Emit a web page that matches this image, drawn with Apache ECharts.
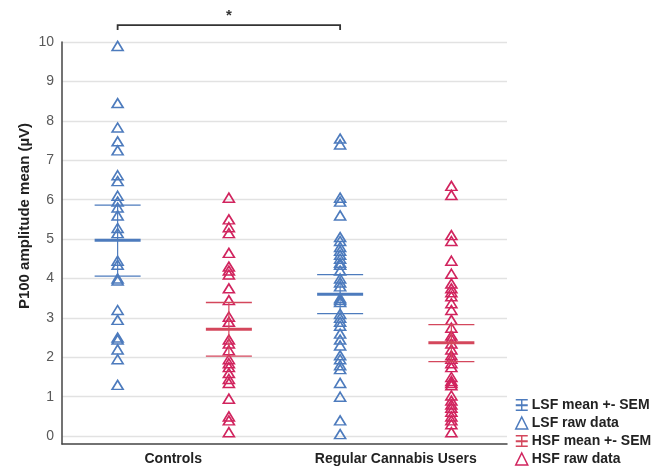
<!DOCTYPE html>
<html>
<head>
<meta charset="utf-8">
<script src="https://cdn.jsdelivr.net/npm/echarts@6/dist/echarts.min.js"></script>
<style>
  html, body { margin: 0; padding: 0; background: #fff; }
  #main { width: 672px; height: 470px; }
</style>
</head>
<body>
<div id="main"></div>
<script>
// groups on the x axis
const groups = ["Controls", "Regular Cannabis Users"];
const yTicks = [0, 1, 2, 3, 4, 5, 6, 7, 8, 9, 10];

// raw values (µV)
const lsfControls = [9.9, 8.45, 7.83, 7.48, 7.25, 6.62, 6.47, 6.1, 5.95, 5.8, 5.6, 5.28, 5.15,
  4.45, 4.35, 4.0, 3.95, 3.2, 2.95, 2.5, 2.45, 2.2, 1.95, 1.3];
const hsfControls = [6.05, 5.5, 5.3, 5.15, 4.65, 4.3, 4.2, 4.1, 3.75, 3.45, 3.03, 2.9, 2.45,
  2.35, 2.18, 1.95, 1.85, 1.75, 1.6, 1.45, 1.35, 0.95, 0.5, 0.4, 0.1];
const lsfUsers = [7.55, 7.4, 6.05, 5.95, 5.6, 5.05, 4.95, 4.8, 4.7, 4.6, 4.5, 4.4, 4.35, 4.2,
  4.0, 3.9, 3.8, 3.5, 3.45, 3.4, 3.1, 3.0, 2.9, 2.8, 2.6, 2.45, 2.3, 2.05, 1.95, 1.8, 1.7,
  1.35, 1.0, 0.4, 0.05];
const hsfUsers = [6.35, 6.12, 5.1, 4.95, 4.45, 4.12, 3.87, 3.75, 3.65, 3.55, 3.37, 3.2, 2.95,
  2.75, 2.55, 2.47, 2.35, 2.2, 2.05, 1.96, 1.85, 1.75, 1.5, 1.4, 1.35, 1.29, 1.03, 0.9, 0.8,
  0.72, 0.62, 0.5, 0.4, 0.3, 0.1];

// mean and SEM bounds per group
const lsfMean = [4.97, 3.6];
const lsfSemLow = [4.06, 3.11];
const lsfSemHigh = [5.86, 4.1];
const hsfMean = [2.71, 2.37];
const hsfSemLow = [2.03, 1.89];
const hsfSemHigh = [3.39, 2.83];

// significance bracket between the LSF columns
const sigFrom = 0;
const sigTo = 1;
const sigLevel = 10.43;
const sigLabel = "*";

const blue = "#4d7bbd";
const red = "#d1245e";
const redLine = "#d4475c";

function rawPoints(vals, gi, off) {
  return vals.map((v) => [gi + off, v]);
}

function errData(mean, lo, hi, off) {
  return mean.map((m, i) => [i + off, m, lo[i], hi[i]]);
}

function errRender(color) {
  return function (params, api) {
    const x = api.value(0);
    const pm = api.coord([x, api.value(1)]);
    const pl = api.coord([x, api.value(2)]);
    const ph = api.coord([x, api.value(3)]);
    const hw = 23;
    return {
      type: "group",
      children: [
        { type: "line", shape: { x1: pm[0], y1: ph[1], x2: pm[0], y2: pl[1] }, style: { stroke: color, lineWidth: 1.2 } },
        { type: "line", shape: { x1: pm[0] - hw, y1: ph[1], x2: pm[0] + hw, y2: ph[1] }, style: { stroke: color, lineWidth: 1.3 } },
        { type: "line", shape: { x1: pm[0] - hw, y1: pl[1], x2: pm[0] + hw, y2: pl[1] }, style: { stroke: color, lineWidth: 1.3 } },
        { type: "line", shape: { x1: pm[0] - hw, y1: pm[1], x2: pm[0] + hw, y2: pm[1] }, style: { stroke: color, lineWidth: 3 } },
      ],
    };
  };
}

const errIcon = "path://M0,0h12v1.4h-12z M0,5.2h12v2h-12z M0,10.6h12v1.4h-12z M5.3,0h1.4v12h-1.4z";

const chart = echarts.init(document.getElementById("main"));
chart.setOption({
  animation: false,
  textStyle: { fontFamily: "Liberation Sans" },
  grid: { left: 62, right: 165, top: 42, bottom: 26 },
  xAxis: [
    {
      type: "value", min: 0, max: 2, show: false,
    },
    {
      type: "category", data: groups, position: "bottom",
      axisLine: { lineStyle: { color: "#444", width: 1.5 } },
      axisTick: { alignWithLabel: true, inside: true, length: 3, lineStyle: { color: "#444" } },
      axisLabel: { color: "#222", fontSize: 14, fontWeight: "bold", margin: 8 },
    },
  ],
  yAxis: {
    type: "value", min: -0.2, max: 10,
    axisLine: { show: true, lineStyle: { color: "#444", width: 1.5 } },
    axisTick: { show: false, customValues: yTicks },
    axisLabel: { customValues: yTicks, color: "#595959", fontSize: 14, margin: 8 },
    splitLine: { show: true, lineStyle: { color: "#e2e2e2", width: 1.3 } },
  },
  legend: {
    orient: "vertical", left: 515, top: 398, padding: 0, itemGap: 4, itemWidth: 12, itemHeight: 12,
    textStyle: { color: "#222", fontSize: 14, lineHeight: 14, fontWeight: "bold", padding: [0, 0, 0, -1] },
    data: [
      { name: "LSF mean +- SEM", icon: errIcon, itemStyle: { color: blue } },
      { name: "LSF raw data", icon: "triangle", itemStyle: { color: "#fff", borderColor: blue, borderWidth: 1.5 } },
      { name: "HSF mean +- SEM", icon: errIcon, itemStyle: { color: redLine } },
      { name: "HSF raw data", icon: "triangle", itemStyle: { color: "#fff", borderColor: red, borderWidth: 1.5 } },
    ],
  },
  graphic: [
    {
      type: "text", x: 25, y: 216, rotation: Math.PI / 2,
      style: { text: "P100 amplitude mean (µV)", font: "bold 15px 'Liberation Sans'", fill: "#222", align: "center", verticalAlign: "middle" },
    },
  ],
  series: [
    {
      name: "LSF raw data", type: "scatter", symbol: "triangle", symbolSize: [11, 9],
      itemStyle: { color: "rgba(255,255,255,0)", borderColor: blue, borderWidth: 1.6, opacity: 1 },
      data: rawPoints(lsfControls, 0, 0.25).concat(rawPoints(lsfUsers, 1, 0.25)),
      z: 3,
    },
    {
      name: "HSF raw data", type: "scatter", symbol: "triangle", symbolSize: [11, 9],
      itemStyle: { color: "rgba(255,255,255,0)", borderColor: red, borderWidth: 1.6, opacity: 1 },
      data: rawPoints(hsfControls, 0, 0.75).concat(rawPoints(hsfUsers, 1, 0.75)),
      z: 3,
    },
    {
      name: "LSF mean +- SEM", type: "custom", itemStyle: { color: blue },
      renderItem: errRender(blue), data: errData(lsfMean, lsfSemLow, lsfSemHigh, 0.25), z: 4,
    },
    {
      name: "HSF mean +- SEM", type: "custom", itemStyle: { color: redLine },
      renderItem: errRender(redLine), data: errData(hsfMean, hsfSemLow, hsfSemHigh, 0.75), z: 4,
    },
    {
      type: "custom", clip: false, silent: true,
      data: [[sigFrom + 0.25, sigTo + 0.25, sigLevel]],
      renderItem: function (params, api) {
        const a = api.coord([api.value(0), api.value(2)]);
        const b = api.coord([api.value(1), api.value(2)]);
        return {
          type: "group",
          children: [
            { type: "polyline", shape: { points: [[a[0], a[1] + 5], [a[0], a[1]], [b[0], b[1]], [b[0], b[1] + 5]] }, style: { stroke: "#333", lineWidth: 1.8, fill: null } },
            { type: "text", x: (a[0] + b[0]) / 2, y: a[1] - 9, style: { text: sigLabel, font: "bold 15px 'Liberation Sans'", fill: "#333", align: "center", verticalAlign: "middle" } },
          ],
        };
      },
    },
  ],
});
</script>
</body>
</html>
